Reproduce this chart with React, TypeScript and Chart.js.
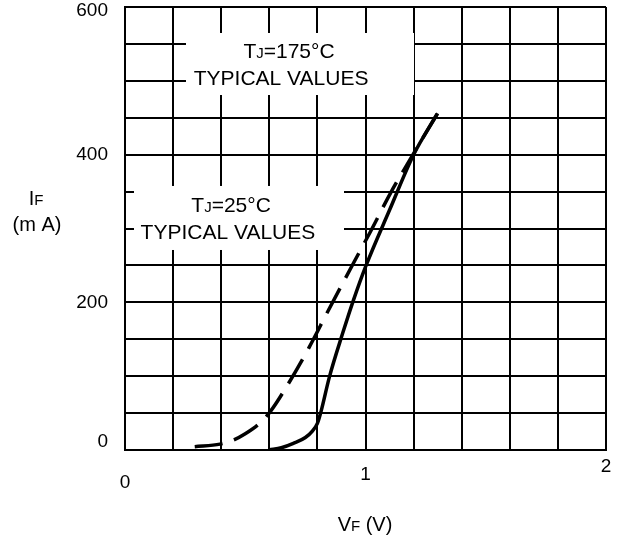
import React, { useEffect, useRef } from "react";
import { Chart, registerables } from "chart.js";

Chart.register(...registerables);

// ---- data ----
const vf25 = [0.6, 0.65, 0.7, 0.75, 0.78, 0.8, 0.815, 0.85, 0.905, 0.95, 1.0, 1.1, 1.2, 1.3];
const if25 = [0, 3, 9, 17, 26, 36, 52, 99, 158, 203, 248, 325, 400, 456];

const vf175 = [0.29, 0.395, 0.451, 0.5, 0.5625, 0.604, 0.674, 0.764, 0.847, 0.958, 1.021, 1.104, 1.201, 1.299];
const if175 = [4.5, 8, 13.5, 22, 37, 52, 87, 138, 190, 258, 296, 348, 402, 456];

const xTickLabels = [0, 1, 2];
const yTickLabels = [0, 200, 400, 600];

const note175 = ["T", "J", "=175°C", "TYPICAL VALUES"];
const note25 = ["T", "J", "=25°C", "TYPICAL VALUES"];

const FONT = '"Liberation Sans", Arial, Helvetica, sans-serif';

// layout of annotation boxes, in data units
const boxes = [
  { text: note175, x0: 0.2536, x1: 1.2017, yTop: 564.8, yBot: 480.8, l1x: 0.682, l1y: 531, l2x: 0.649, l2y: 494.4 },
  { text: note25, x0: 0.0374, x1: 0.9106, yTop: 357.6, yBot: 270.9, l1x: 0.441, l1y: 322.4, l2x: 0.428, l2y: 285.8 },
];

type Part = { t: string; size: number };

function drawRich(ctx: CanvasRenderingContext2D, parts: Part[], cx: number, baseline: number) {
  let total = 0;
  const widths: number[] = [];
  for (const p of parts) {
    ctx.font = `${p.size}px ${FONT}`;
    const w = ctx.measureText(p.t).width;
    widths.push(w);
    total += w;
  }
  let x = cx - total / 2;
  ctx.textAlign = "left";
  ctx.textBaseline = "alphabetic";
  ctx.fillStyle = "#000";
  parts.forEach((p, i) => {
    ctx.font = `${p.size}px ${FONT}`;
    ctx.fillText(p.t, x, baseline);
    x += widths[i];
  });
}

const overlayPlugin = {
  id: "overlay",
  beforeDatasetsDraw(chart: any) {
    const ctx: CanvasRenderingContext2D = chart.ctx;
    const xs = chart.scales.x;
    const ys = chart.scales.y;
    ctx.save();
    for (const b of boxes) {
      const x0 = xs.getPixelForValue(b.x0);
      const x1 = xs.getPixelForValue(b.x1);
      const y0 = ys.getPixelForValue(b.yTop);
      const y1 = ys.getPixelForValue(b.yBot);
      ctx.fillStyle = "#fff";
      ctx.fillRect(x0, y0, x1 - x0, y1 - y0);
      drawRich(
        ctx,
        [
          { t: b.text[0], size: 21 },
          { t: b.text[1], size: 15 },
          { t: b.text[2], size: 21 },
        ],
        xs.getPixelForValue(b.l1x),
        ys.getPixelForValue(b.l1y)
      );
      drawRich(ctx, [{ t: b.text[3], size: 21 }], xs.getPixelForValue(b.l2x), ys.getPixelForValue(b.l2y));
    }
    ctx.restore();
  },
  afterDraw(chart: any) {
    const ctx: CanvasRenderingContext2D = chart.ctx;
    ctx.save();
    drawRich(ctx, [{ t: "I", size: 20 }, { t: "F", size: 15 }], 36, 205);
    drawRich(ctx, [{ t: "(m A)", size: 20 }], 37, 231);
    drawRich(ctx, [{ t: "V", size: 20 }, { t: "F", size: 15 }, { t: " (V)", size: 20 }], 365, 531);
    ctx.restore();
  },
};

// vertical nudges of tick labels (line heights used by Chart.js to place the text)
const xLineHeights: Record<number, string> = { 0: "66px", 1: "50px", 2: "34px" };

export default function App() {
  const ref = useRef<HTMLCanvasElement | null>(null);

  useEffect(() => {
    document.body.style.margin = "0";
    const canvas = ref.current;
    if (!canvas) return;
    const chart = new Chart(canvas, {
      type: "scatter",
      data: {
        datasets: [
          {
            label: "TJ=25°C",
            data: vf25.map((v, i) => ({ x: v, y: if25[i] })),
            showLine: true,
            borderColor: "#000",
            borderWidth: 3.5,
            pointRadius: 0,
            cubicInterpolationMode: "monotone",
          },
          {
            label: "TJ=175°C",
            data: vf175.map((v, i) => ({ x: v, y: if175[i] })),
            showLine: true,
            borderColor: "#000",
            borderWidth: 3.5,
            borderDash: [28, 12],
            pointRadius: 0,
            cubicInterpolationMode: "monotone",
          },
        ],
      },
      options: {
        responsive: false,
        animation: false,
        devicePixelRatio: 1,
        layout: { autoPadding: false, padding: { left: 0, right: 17, top: 7, bottom: 0 } },
        plugins: { legend: { display: false }, tooltip: { enabled: false } },
        scales: {
          x: {
            type: "linear",
            min: 0,
            max: 2,
            afterFit: (s: any) => {
              s.height = 90;
              s.paddingLeft = 0;
              s.paddingRight = 0;
              s.paddingTop = 0;
              s.paddingBottom = 0;
            },
            border: { display: true, color: "#000", width: 2 },
            grid: { color: "#000", lineWidth: 2, drawTicks: false },
            ticks: {
              stepSize: 0.2,
              padding: 0,
              color: "#000",
              maxRotation: 0,
              autoSkip: false,
              font: (c: any) => ({
                family: FONT,
                size: 19,
                lineHeight: xLineHeights[Math.round(c.tick?.value ?? 0)] ?? "50px",
              }),
              callback: (v: any) => {
                const n = Number(v);
                const r = Math.round(n);
                return Math.abs(n - r) < 1e-6 && xTickLabels.includes(r) ? String(r) : "";
              },
            },
          },
          y: {
            type: "linear",
            min: 0,
            max: 600,
            afterFit: (s: any) => {
              s.width = 125;
              s.paddingLeft = 0;
              s.paddingRight = 0;
              s.paddingTop = 0;
              s.paddingBottom = 0;
            },
            border: { display: true, color: "#000", width: 2 },
            grid: { color: "#000", lineWidth: 2, drawTicks: false },
            ticks: {
              stepSize: 50,
              padding: 17,
              color: "#000",
              autoSkip: false,
              font: (c: any) => {
                const v = Math.round(c.tick?.value ?? 100);
                const lh = v === 0 ? "16px" : v === 600 ? "8px" : "21px";
                return { family: FONT, size: 19, lineHeight: lh };
              },
              callback: (v: any) => {
                const n = Math.round(Number(v));
                if (!yTickLabels.includes(n)) return "";
                if (n === 0) return ["0", ""];
                if (n === 600) return ["", "600"];
                return String(n);
              },
            },
          },
        },
      },
      plugins: [overlayPlugin],
    } as any);
    return () => chart.destroy();
  }, []);

  return (
    <div style={{ position: "fixed", left: 0, top: 0, width: 623, height: 540, background: "#fff" }}>
      <canvas ref={ref} width={623} height={540} style={{ display: "block", width: 623, height: 540 }} />
    </div>
  );
}
